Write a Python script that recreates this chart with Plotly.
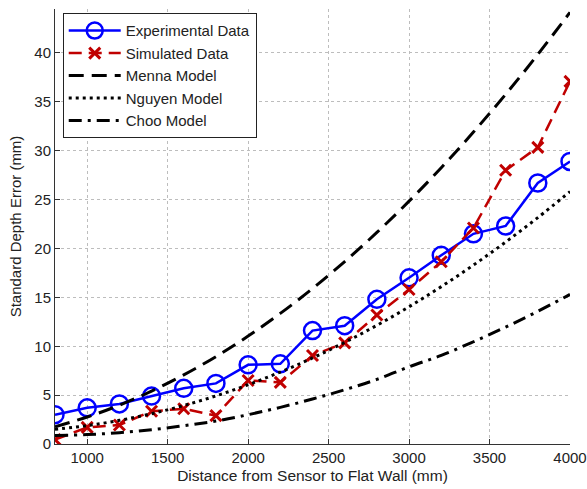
import plotly.graph_objects as go

# Distance from sensor (mm)
distance = [800, 1000, 1200, 1400, 1600, 1800, 2000, 2200, 2400,
            2600, 2800, 3000, 3200, 3400, 3600, 3800, 4000]

# Measured and simulated standard depth error (mm)
experimental = [3.0, 3.7, 4.1, 4.9, 5.7, 6.2, 8.1, 8.2, 11.6,
                12.1, 14.8, 17.0, 19.3, 21.5, 22.3, 26.7, 28.9]
simulated = [0.45, 1.7, 1.95, 3.35, 3.6, 2.9, 6.5, 6.3, 9.05,
             10.35, 13.2, 15.8, 18.65, 22.1, 28.0, 30.35, 37.1]

# Model predictions (mm)
menna = [1.77, 2.76, 3.97, 5.41, 7.07, 8.94, 11.04, 13.36, 15.90,
         18.66, 21.64, 24.84, 28.26, 31.91, 35.77, 39.85, 44.16]
nguyen = [1.50, 1.88, 2.42, 3.10, 3.94, 4.92, 6.06, 7.36, 8.80,
          10.40, 12.14, 14.04, 16.10, 18.30, 20.66, 23.16, 25.82]
choo = [0.88, 0.96, 1.16, 1.46, 1.87, 2.35, 3.0, 3.75, 4.6,
        5.55, 6.61, 7.9, 9.07, 10.46, 11.96, 13.57, 15.3]

x_ticks = [1000, 1500, 2000, 2500, 3000, 3500, 4000]
y_ticks = [0, 5, 10, 15, 20, 25, 30, 35, 40]

BLUE = "#0000ff"
RED = "#c00000"
BLACK = "#000000"
FONT = "Liberation Sans, Arial, sans-serif"
TEXT = "#222222"

fig = go.Figure()

fig.add_trace(go.Scatter(
    x=distance, y=experimental, name="Experimental Data",
    mode="lines+markers",
    line=dict(color=BLUE, width=2.5),
    marker=dict(symbol="circle-open", size=17, color=BLUE,
                line=dict(width=2.5, color=BLUE)),
))
fig.add_trace(go.Scatter(
    x=distance, y=simulated, name="Simulated Data",
    mode="lines+markers",
    line=dict(color=RED, width=2.5, dash="13px,7px"),
    marker=dict(symbol="x-thin-open", size=11, color=RED,
                line=dict(width=3, color=RED)),
))
fig.add_trace(go.Scatter(
    x=distance, y=menna, name="Menna Model", mode="lines",
    line=dict(color=BLACK, width=3, dash="15px,8px", shape="spline"),
))
fig.add_trace(go.Scatter(
    x=distance, y=nguyen, name="Nguyen Model", mode="lines",
    line=dict(color=BLACK, width=3, dash="3px,4px", shape="spline"),
))
fig.add_trace(go.Scatter(
    x=distance, y=choo, name="Choo Model", mode="lines",
    line=dict(color=BLACK, width=3, dash="13px,6px,3px,6px", shape="spline"),
))

axis_common = dict(
    showline=True, linecolor="#333333", linewidth=1,
    ticks="inside", ticklen=5, tickcolor="#333333",
    showgrid=True, gridcolor="#bdbdbd", gridwidth=1, griddash="dot",
    zeroline=False, mirror=False, automargin=False,
    tickfont=dict(family=FONT, size=15, color=TEXT),
)

fig.update_xaxes(
    range=[800, 4000], tickvals=x_ticks,
    title=dict(text="Distance from Sensor to Flat Wall (mm)",
               font=dict(family=FONT, size=15.5, color=TEXT),
               standoff=5),
    **axis_common,
)
fig.update_yaxes(
    range=[0, 44.5], tickvals=y_ticks,
    title=dict(text="Standard Depth Error (mm)",
               font=dict(family=FONT, size=15, color=TEXT),
               standoff=9),
    **axis_common,
)

fig.update_layout(
    width=587, height=489,
    margin=dict(l=55, r=17, t=9, b=45),
    paper_bgcolor="white", plot_bgcolor="white",
    font=dict(family=FONT, size=15, color=TEXT),
    legend=dict(
        x=0.015, y=0.99, xanchor="left", yanchor="top",
        bgcolor="white", bordercolor="#222222", borderwidth=1,
        font=dict(family=FONT, size=15, color=TEXT),
        tracegroupgap=0, itemwidth=52,
    ),
    showlegend=True,
)

fig.write_html("out.html")
